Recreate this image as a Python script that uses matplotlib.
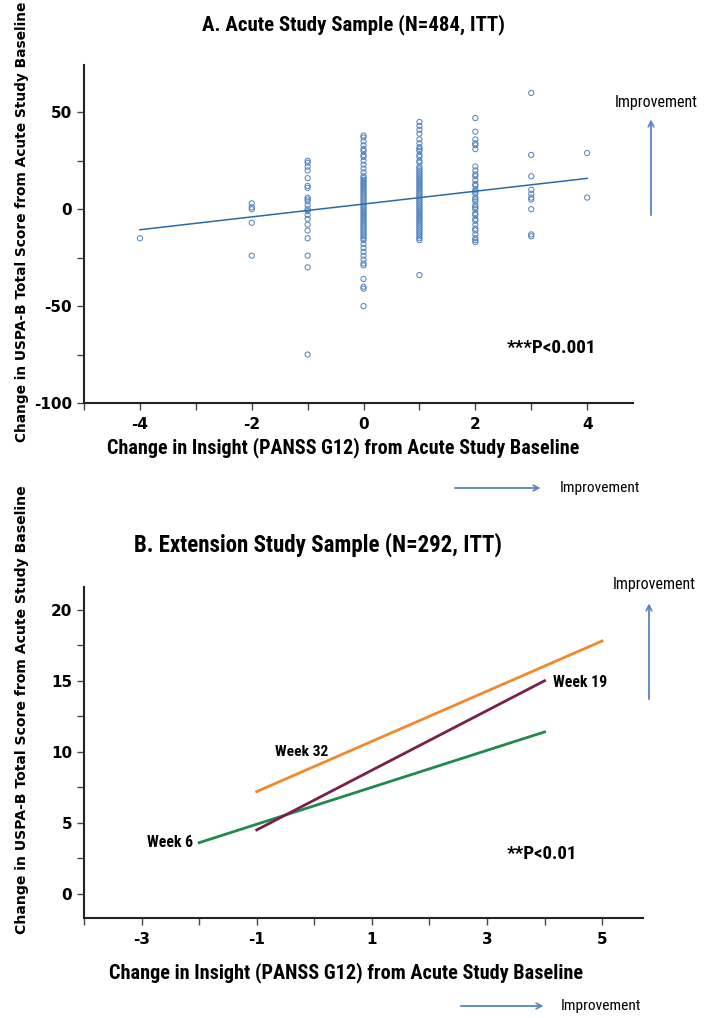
import matplotlib
matplotlib.use("Agg")
import matplotlib.pyplot as plt
from matplotlib import font_manager as fm
from matplotlib.ticker import MultipleLocator

plt.rcParams["axes.unicode_minus"] = False

# ---- panel A: scatter of change in USPA-B vs change in insight ----
col_x = [-4, -2, -1, 0, 1, 2, 3, 4]
col_y = [
    [-15],
    [3, 1, 0, -7, -24],
    [25, 24, 22, 20, 16, 12, 11, 6, 5, 4, 2, 0, -1, -3, -5, -8, -11, -15, -24, -30, -75],
    [38, 37, 35, 33, 31, 30, 28, 27, 25, 23, 21, 19, 17, 16, 15, 14, 13, 12, 11, 10,
     9, 8, 7, 6, 5, 4, 3, 2, 1, 0, -1, -2, -3, -4, -5, -6, -7, -8, -9, -10, -11, -12,
     -13, -14, -15, -16, -18, -20, -22, -24, -26, -28, -29, -36, -40, -41, -50],
    [45, 43, 41, 39, 36, 34, 32, 31, 30, 28, 27, 25, 24, 22, 21, 20, 19, 18, 17, 16,
     15, 14, 13, 12, 11, 10, 9, 8, 7, 6, 5, 4, 3, 2, 1, 0, -1, -2, -3, -4, -5, -6, -7,
     -8, -9, -10, -11, -12, -13, -14, -15, -16, -34],
    [47, 40, 36, 34, 33, 31, 22, 20, 18, 17, 15, 13, 12, 10, 9, 8, 6, 5, 4, 2, 1, 0,
     -2, -3, -5, -6, -8, -10, -11, -13, -15, -16, -17],
    [60, 28, 17, 10, 8, 6, 5, 0, -13, -14],
    [29, 6],
]
fit_x = [-4, 4]
fit_y = [-10.6, 15.9]

# ---- panel B: fitted lines per visit ----
week_names = ["Week 6", "Week 19", "Week 32"]
week_x = [[-2, 4], [-1, 4], [-1, 5]]
week_y = [[3.6, 11.4], [4.5, 15.0], [7.2, 17.8]]
week_colors = ["#1f8a4c", "#7a1f4b", "#f0892b"]


# look for a condensed face (the original uses a condensed bold sans)
def find_condensed(bold):
    prefs = ["NotoSans", "OpenSans", "Roboto", "LiberationSansNarrow", "DejaVuSans"]
    files = [f.fname for f in fm.fontManager.ttflist]
    for p in prefs:
        for fn in files:
            base = fn.split("/")[-1].replace(" ", "").replace("-", "")
            low = base.lower()
            if not base.startswith(p):
                continue
            if "italic" in low or "oblique" in low:
                continue
            if not ("condensed" in low or "narrow" in low):
                continue
            if "semicondensed" in low or "extracondensed" in low:
                continue
            isbold = "bold" in low and "semibold" not in low and "extrabold" not in low
            if bold == isbold and (bold or "regular" in low or low.endswith("condensed.ttf")
                                   or low.endswith("narrow.ttf")):
                return fm.FontProperties(fname=fn)
    return None


cond_bold = find_condensed(True) or fm.FontProperties(family="Lato", weight="bold")
cond_reg = find_condensed(False) or fm.FontProperties(family="Lato")

W, H = 715, 1018
fig = plt.figure(figsize=(W / 100, H / 100), dpi=100)
renderer = fig.canvas.get_renderer()


def fx(px):
    return px / W


def fy(py):
    return 1 - py / H


def fit(t, target, vertical=False):
    # scale the font so the text spans about `target` pixels
    bb = t.get_window_extent(renderer)
    size = bb.height if vertical else bb.width
    t.set_fontsize(t.get_fontsize() * target / size)
    return t


def ctext(x, y, s, target, bold=True, where=None, **kw):
    fp = (cond_bold if bold else cond_reg).copy()
    fp.set_size(12)
    obj = where if where is not None else fig
    t = obj.text(x, y, s, fontproperties=fp, va="center", **kw)
    return fit(t, target)


def style_axes(ax):
    for s in ["top", "right"]:
        ax.spines[s].set_visible(False)
    for s in ["left", "bottom"]:
        ax.spines[s].set_linewidth(1.5)
        ax.spines[s].set_color("#222222")
    ax.tick_params(which="both", direction="out", length=5, width=1, color="#444444")
    for lab in ax.get_xticklabels() + ax.get_yticklabels():
        lab.set_fontweight("bold")
        lab.set_fontsize(11)


# panel A
axA = fig.add_axes([fx(84), fy(403), fx(633 - 84), (403 - 65) / H])
xs, ys = [], []
for x, vals in zip(col_x, col_y):
    xs += [x] * len(vals)
    ys += vals
axA.scatter(xs, ys, s=14, facecolors="none", edgecolors="#4f81bd", linewidths=0.7)
axA.plot(fit_x, fit_y, color="#2a6aa5", lw=1.1)
axA.set_xlim(-5, 4.82)
axA.set_ylim(-100, 74.4)
axA.xaxis.set_major_locator(MultipleLocator(2))
axA.xaxis.set_minor_locator(MultipleLocator(1))
axA.yaxis.set_major_locator(MultipleLocator(50))
axA.yaxis.set_minor_locator(MultipleLocator(25))
axA.tick_params(axis="x", pad=5)
style_axes(axA)
ctext(3.36, -71.5, "***P<0.001", 89, where=axA, ha="center")

# panel B
axB = fig.add_axes([fx(84), fy(918), fx(643 - 84), (918 - 587) / H])
for name, x, y, c in zip(week_names, week_x, week_y, week_colors):
    axB.plot(x, y, color=c, lw=2)
axB.set_xlim(-4, 5.71)
axB.set_ylim(-1.7, 21.6)
axB.set_xticks([-3, -1, 1, 3, 5])
axB.xaxis.set_minor_locator(MultipleLocator(1))
axB.yaxis.set_major_locator(MultipleLocator(5))
axB.yaxis.set_minor_locator(MultipleLocator(2.5))
axB.tick_params(axis="x", pad=5)
style_axes(axB)
ctext(-2.11, 3.6, "Week 6", 46, where=axB, ha="right")
ctext(4.15, 14.9, "Week 19", 54, where=axB, ha="left")
ctext(-0.69, 10.0, "Week 32", 53, where=axB, ha="left")
ctext(3.95, 2.8, "**P<0.01", 70, where=axB, ha="center")

# titles and axis labels
ctext(fx(354), fy(25), "A. Acute Study Sample (N=484, ITT)", 302, ha="center")
ctext(fx(318), fy(545), "B. Extension Study Sample (N=292, ITT)", 367, ha="center")
xlab = "Change in Insight (PANSS G12) from Acute Study Baseline"
ctext(fx(343), fy(448), xlab, 473, ha="center")
ctext(fx(346), fy(973), xlab, 475, ha="center")
ylab = "Change in USPA-B Total Score from Acute Study Baseline"
fit(fig.text(fx(22), fy(222), ylab, ha="center", va="center", rotation=90,
             fontsize=12, fontweight="bold"), 438, vertical=True)
fit(fig.text(fx(22), fy(710), ylab, ha="center", va="center", rotation=90,
             fontsize=12, fontweight="bold"), 446, vertical=True)

# improvement arrows
arrow = dict(arrowstyle="->", color="#5b86c0", lw=1)
for (x0, y0, x1, y1) in [(651, 218, 651, 117), (649, 702, 649, 601),
                         (452, 488, 543, 488), (458, 1006, 546, 1006)]:
    fig.add_artist(plt.annotate("", xy=(fx(x1), fy(y1)), xytext=(fx(x0), fy(y0)),
                                xycoords="figure fraction", arrowprops=arrow))
ctext(fx(656), fy(102), "Improvement", 83, bold=False, ha="center")
ctext(fx(654), fy(585), "Improvement", 83, bold=False, ha="center")
ctext(fx(560), fy(488), "Improvement", 80, bold=False, ha="left")
ctext(fx(561), fy(1006), "Improvement", 80, bold=False, ha="left")

fig.savefig("out.png", dpi=100)
